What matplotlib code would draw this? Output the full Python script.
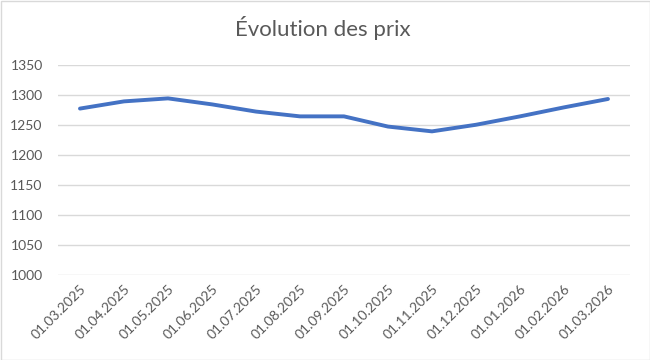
import matplotlib.pyplot as plt
from matplotlib.patches import Rectangle

dates = ['01.03.2025', '01.04.2025', '01.05.2025', '01.06.2025', '01.07.2025',
         '01.08.2025', '01.09.2025', '01.10.2025', '01.11.2025', '01.12.2025',
         '01.01.2026', '01.02.2026', '01.03.2026']
prices = [1277, 1289, 1294, 1284, 1272, 1264, 1264, 1247, 1239, 1250, 1264, 1279, 1293]
yticks = [1000, 1050, 1100, 1150, 1200, 1250, 1300, 1350]

plt.rcParams['font.family'] = ['Lato', 'DejaVu Sans']

fig = plt.figure(figsize=(6.5, 3.6), dpi=100)
ax = fig.add_axes([0.0892, 0.237, 0.88, 0.583])

x = list(range(len(dates)))
ax.plot(x, prices, color='#4472C4', lw=2.8, solid_capstyle='round', zorder=3)

ax.set_xlim(-0.5, len(dates) - 0.5)
ax.set_ylim(1000, 1350)
ax.set_yticks(yticks)
ax.set_xticks(x)
ax.set_xticklabels(dates, rotation=45, ha='right', rotation_mode='anchor')
ax.tick_params(axis='both', length=0, labelsize=10, labelcolor='#595959')
ax.tick_params(axis='y', pad=11)
ax.tick_params(axis='x', pad=6)
ax.grid(axis='y', color='#D9D9D9', lw=1)
ax.set_axisbelow(True)
for s in ax.spines.values():
    s.set_visible(False)

fig.text(0.497, 0.922, 'Évolution des prix', ha='center', va='center',
         fontsize=16, color='#595959')
fig.patches.append(Rectangle((0.5 / 650, 0.5 / 360), 1 - 1 / 650, 1 - 1 / 360,
                             transform=fig.transFigure, fill=False,
                             edgecolor='#D9D9D9', lw=1))

fig.savefig('out.png', dpi=100)
